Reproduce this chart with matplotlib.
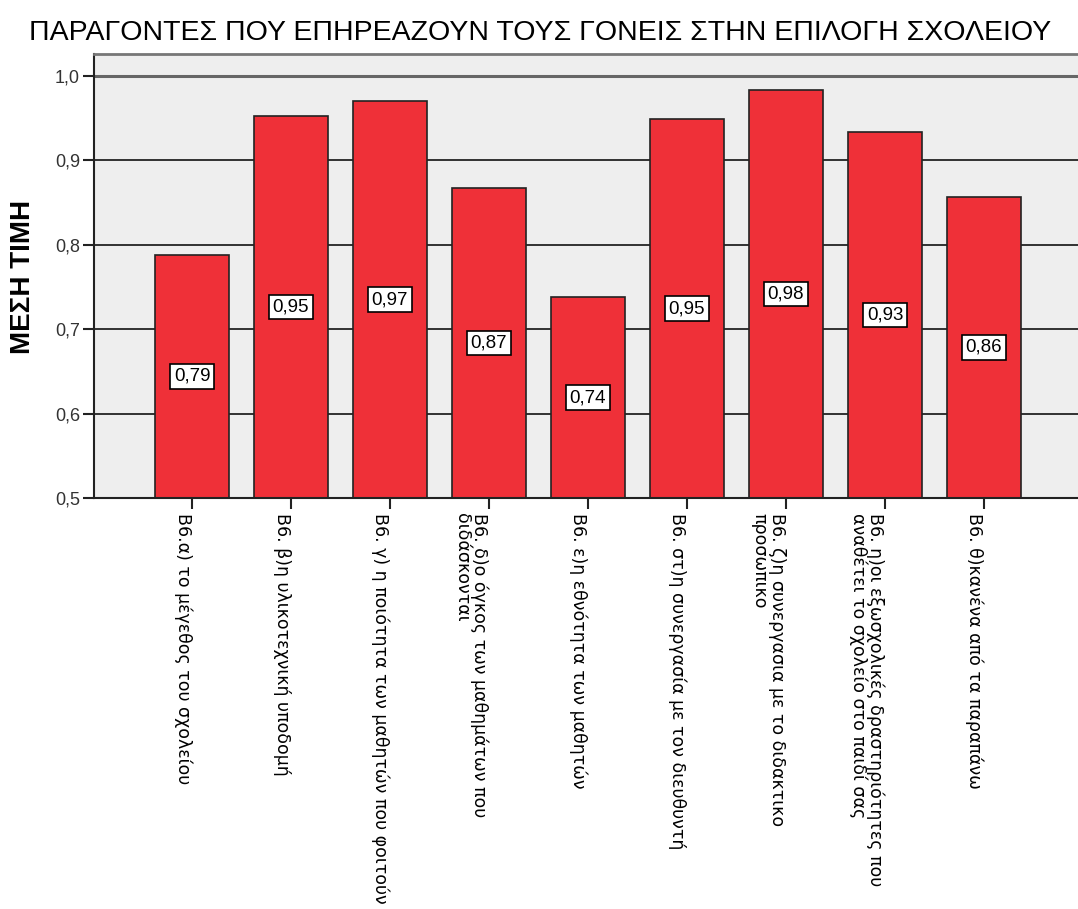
import matplotlib
matplotlib.use("Agg")
import matplotlib.pyplot as plt
import matplotlib.transforms as mtransforms

categories = [
    "Β6.α) το μέγεθος του σχολείου",
    "Β6. β)η υλικοτεχνική υποδομή",
    "Β6. γ) η ποιότητα των μαθητών που φοιτούν",
    "Β6. δ)ο όγκος των μαθημάτων που\nδιδάσκονται",
    "Β6. ε)η εθνότητα των μαθητών",
    "Β6. στ)η συνεργασία με τον διευθυντή",
    "Β6. ζ)η συνεργασια με το διδακτικο\nπροσωπικο",
    "Β6. η)οι εξωσχολικές δραστηριότητες που\nαναθέτει το σχολείο στο παιδί σας",
    "Β6. θ)κανένα από τα παραπάνω",
]
values = [0.788, 0.953, 0.970, 0.867, 0.738, 0.949, 0.983, 0.934, 0.857]
value_labels = ["0,79", "0,95", "0,97", "0,87", "0,74", "0,95", "0,98", "0,93", "0,86"]
yticks = [0.5, 0.6, 0.7, 0.8, 0.9, 1.0]
ytick_labels = ["0,5", "0,6", "0,7", "0,8", "0,9", "1,0"]
title = "ΠΑΡΑΓΟΝΤΕΣ ΠΟΥ ΕΠΗΡΕΑΖΟΥΝ ΤΟΥΣ ΓΟΝΕΙΣ ΣΤΗΝ ΕΠΙΛΟΓΗ ΣΧΟΛΕΙΟΥ"
ylabel = "ΜΕΣΗ ΤΙΜΗ"

fig = plt.figure(figsize=(10.78, 9.09), dpi=100)
ax = fig.add_axes([94/1078, 1 - 498/909, (1078 - 94)/1078, (498 - 54)/909])
ax.set_facecolor("#EEEEEE")

ymin = 0.5
ax.set_ylim(ymin, 1.0 + (76 - 54) / 844)
ax.set_xlim(-0.99, 8.95)

for y in yticks[1:]:
    if y == 1.0:
        ax.axhline(y, color="#666666", lw=2.2, zorder=1)
    else:
        ax.axhline(y, color="#111111", lw=1.2, zorder=1)

x = list(range(len(categories)))
heights = [v - ymin for v in values]
ax.bar(x, heights, bottom=ymin, width=0.75, color="#EF3038",
       edgecolor="#222222", linewidth=1.2, zorder=2)

for xi, v, lab in zip(x, values, value_labels):
    ax.text(xi, (ymin + v) / 2, lab, ha="center", va="center", fontsize=13.5,
            family="Liberation Sans", zorder=3,
            bbox=dict(boxstyle="square,pad=0.2", fc="white", ec="black", lw=1.2))

ax.set_yticks(yticks)
ax.set_yticklabels(ytick_labels, fontsize=13, family="Liberation Sans", color="#333333")
ax.set_xticks(x)
ax.set_xticklabels(categories, fontsize=12.5, family="DejaVu Sans",
                   rotation=270, rotation_mode="anchor", ha="left", va="top",
                   linespacing=0.95)
offset = mtransforms.ScaledTranslation(8/100, 0, fig.dpi_scale_trans)
for lbl in ax.get_xticklabels():
    lbl.set_transform(lbl.get_transform() + offset)

ax.tick_params(axis="both", direction="out", length=8, width=1.5, color="#222222")
ax.tick_params(axis="x", pad=3)
ax.tick_params(axis="y", pad=2)

ax.spines["right"].set_visible(False)
ax.spines["top"].set_color("#777777")
ax.spines["top"].set_linewidth(2)
ax.spines["left"].set_color("#222222")
ax.spines["left"].set_linewidth(1.5)
ax.spines["bottom"].set_color("#222222")
ax.spines["bottom"].set_linewidth(1.5)

fig.text(540/1078, 1 - 33/909, title, ha="center", va="center",
         fontsize=20.5, family="Liberation Sans")
fig.text(23/1078, 1 - 277/909, ylabel, ha="center", va="center", rotation=90,
         fontsize=20, fontweight="bold", family="Liberation Sans")

fig.savefig("out.png", dpi=100, facecolor="white")
